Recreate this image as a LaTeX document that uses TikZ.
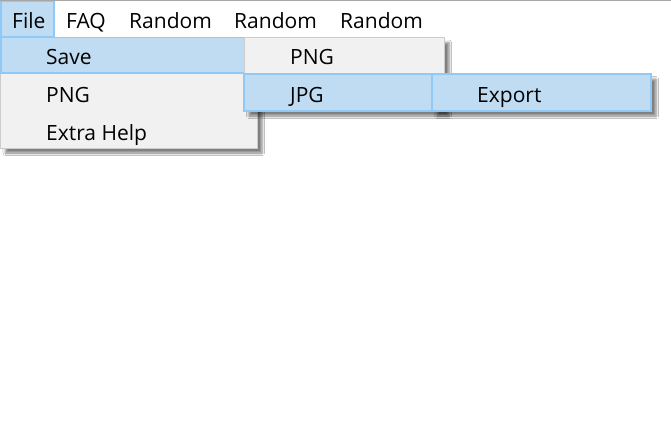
\documentclass[tikz,border=0pt]{standalone}
\usepackage{fontspec}
\setmainfont{Open Sans}
\usepackage{xcolor}
\usetikzlibrary{shadows,shadows.blur}
\definecolor{menugray}{RGB}{241,241,241}
\definecolor{menuline}{RGB}{204,204,204}
\definecolor{hiblue}{RGB}{192,220,243}
\definecolor{hiline}{RGB}{144,200,246}

\begin{document}
\begin{tikzpicture}[x=1pt,y=-1pt,
  menubox/.style={fill=menugray,draw=menuline,line width=1pt},
  hibox/.style={fill=hiblue,draw=hiline,line width=1.5pt},
  menushadow/.style={blur shadow={shadow xshift=5pt,shadow yshift=-5pt,shadow blur radius=2.5pt,shadow opacity=50}},
  lbl/.style={anchor=base west,inner sep=0pt,font=\fontsize{21}{25}\selectfont}]

  \useasboundingbox (0,0) rectangle (671,447);
  \fill[white] (0,0) rectangle (671,447);
  \draw[gray!70] (0,0.5) -- (671,0.5);

  % file menu
  \draw[menubox,menushadow] (0.5,37) rectangle (257,148);
  \draw[hibox] (0.75,37.5) rectangle (245,73);

  % save submenu
  \draw[menubox,menushadow] (244,37.5) rectangle (444,111);
  \draw[hibox] (244,74) rectangle (432,111);

  % export submenu
  \draw[hibox,menushadow] (432,74) rectangle (651,111);

  % menu bar
  \draw[hibox] (0.75,1.5) rectangle (54,37);

  \node[lbl] (file) at (12,28) {File};
  \node[lbl] (faq) at (66,28) {FAQ};
  \node[lbl] (rand1) at (129,28) {Random};
  \node[lbl] (rand2) at (234,28) {Random};
  \node[lbl] (rand3) at (340,28) {Random};

  \node[lbl] (save) at (46,64) {Save};
  \node[lbl] (png) at (46,102) {PNG};
  \node[lbl] (help) at (46,140) {Extra Help};

  \node[lbl] (savepng) at (290,64) {PNG};
  \node[lbl] (savejpg) at (290,102) {JPG};
  \node[lbl] (export) at (477,102) {Export};

\end{tikzpicture}
\end{document}
